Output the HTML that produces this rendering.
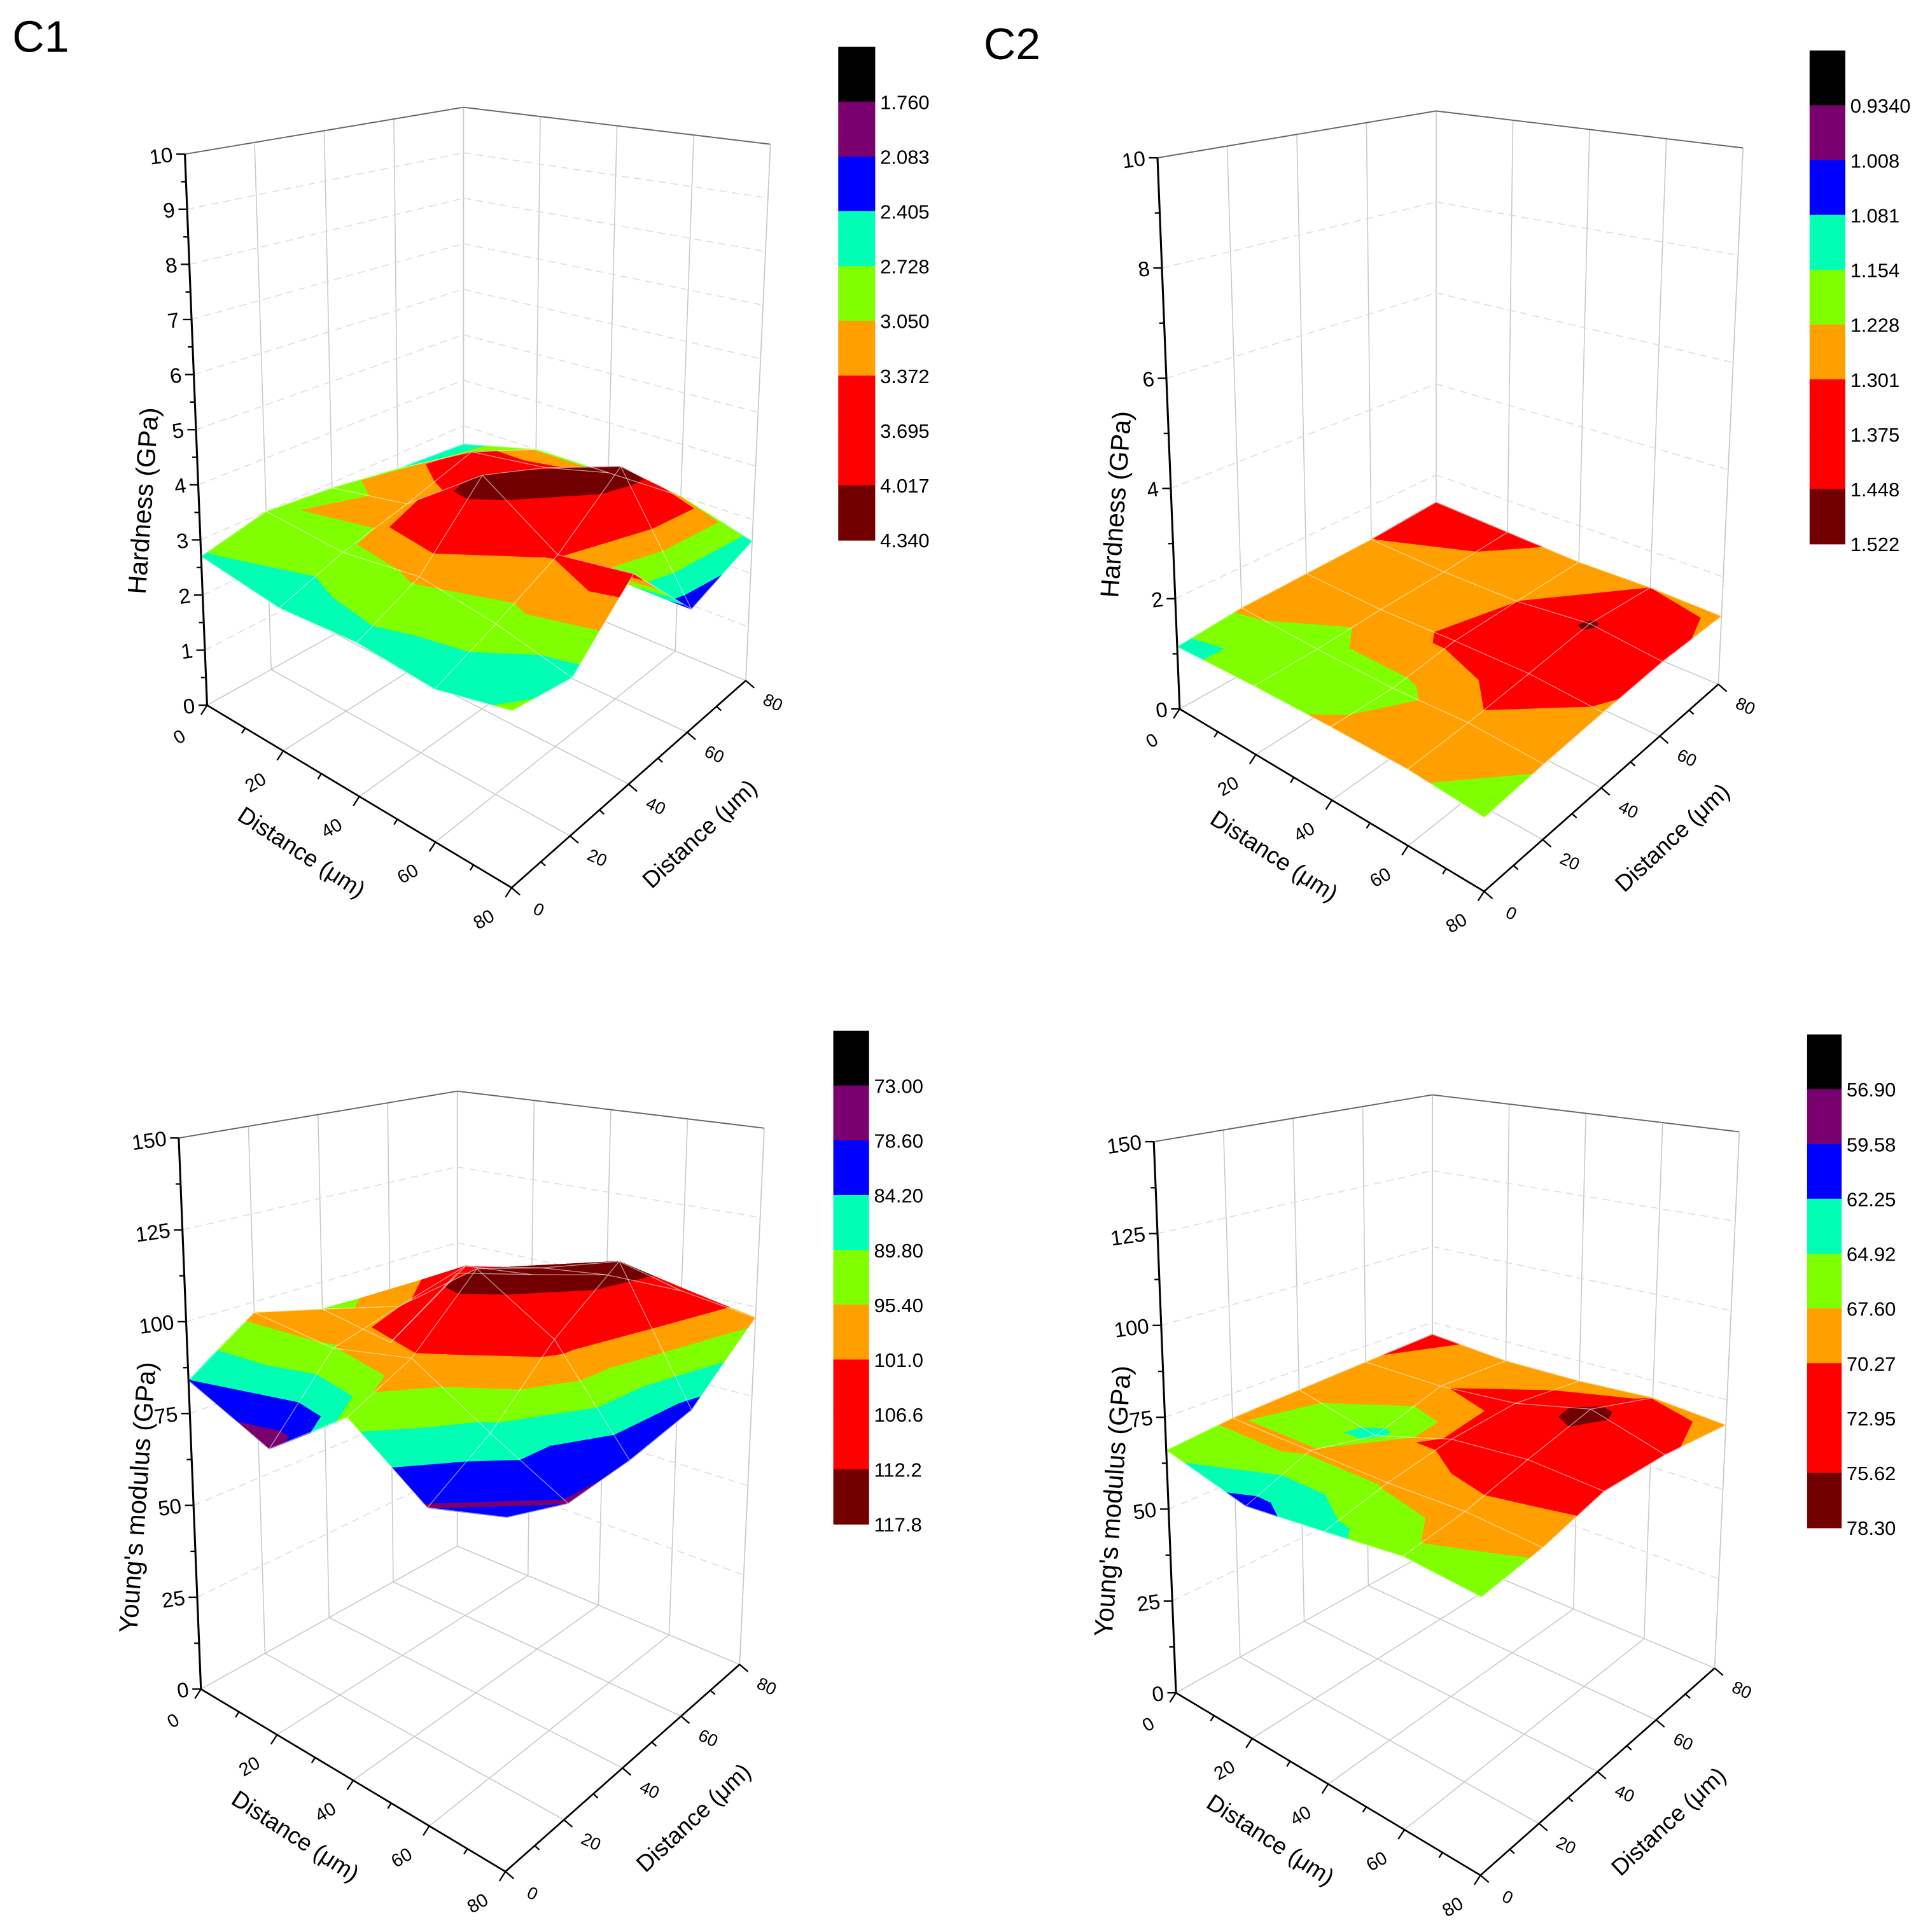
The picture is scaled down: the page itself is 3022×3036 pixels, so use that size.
<!DOCTYPE html>
<html><head><meta charset="utf-8"><style>
html,body{margin:0;padding:0;background:#fff;}
svg{display:block;font-family:"Liberation Sans",sans-serif;}
</style></head><body>
<svg id="fig" xmlns="http://www.w3.org/2000/svg" width="3022" height="3036" viewBox="0 0 1560 1567" preserveAspectRatio="none">
<text x="10" y="42" font-size="36">C1</text>
<text x="798" y="48" font-size="36">C2</text>
</svg>
<script>
const distances = [0, 20, 40, 60, 80];
const bandColors = ['#000000','#7a0070','#0000ff','#00ffb4','#80ff00','#ff9f00','#ff0000','#ff0000','#730000'];

const c1HardLevels = ['1.760','2.083','2.405','2.728','3.050','3.372','3.695','4.017','4.340'];
const c1HardGrid = [
  [2.7, 3.0, 2.9, 2.7, 2.6],
  [2.5, 2.9, 3.2, 3.6, 3.0],
  [2.6, 3.1, 4.3, 3.8, 3.0],
  [2.5, 2.9, 3.4, 4.3, 3.0],
  [2.8, 2.6, 3.6, 2.2, 2.6]
];
const c2HardLevels = ['0.9340','1.008','1.081','1.154','1.228','1.301','1.375','1.448','1.522'];
const c2HardGrid = [
  [1.13, 1.24, 1.27, 1.30, 1.40],
  [1.20, 1.20, 1.25, 1.27, 1.33],
  [1.24, 1.20, 1.32, 1.30, 1.27],
  [1.25, 1.28, 1.36, 1.46, 1.30],
  [1.17, 1.24, 1.29, 1.33, 1.27]
];
const c1ModLevels = ['73.00','78.60','84.20','89.80','95.40','101.0','106.6','112.2','117.8'];
const c1ModGrid = [
  [84, 97, 92, 75, 90],
  [75, 95, 100, 105, 95],
  [92, 100, 117, 110, 100],
  [78, 88, 104, 117, 100],
  [84, 78, 79, 82, 97]
];
const c2ModLevels = ['56.90','59.58','62.25','64.92','67.60','70.27','72.95','75.62','78.30'];
const c2ModGrid = [
  [66, 68, 69, 70, 71],
  [61, 68, 64, 70, 69],
  [64, 68, 71, 72, 69],
  [67, 69, 73, 77, 70],
  [66, 68, 72, 71, 68]
];
const hardTicks1 = [0,1,2,3,4,5,6,7,8,9,10];
const hardTicks2 = [0,2,4,6,8,10];
const modTicks = [0,25,50,75,100,125,150];

const NS = 'http://www.w3.org/2000/svg';
const svg = document.getElementById('fig');
function mk(tag, attrs, parent, txt){
  const e = document.createElementNS(NS, tag);
  for (const k in attrs) e.setAttribute(k, attrs[k]);
  if (txt !== undefined) e.textContent = txt;
  (parent || svg).appendChild(e);
  return e;
}

function panel(cfg){
  const g = mk('g', {});
  
  
  const dx = cfg.dx, dy = cfg.dy;
  const base = {O:[168+dx,572+dy],A:[415+dx,720+dy],B:[605+dx,552+dy],C:[376+dx,456+dy]};
  const top = {O:[150+dx,125+dy],A:[417+dx,207+dy],B:[625+dx,117+dy],C:[376+dx,87+dy]};
  const zmin = cfg.zmin, zmax = cfg.zmax;
  function bil(q,u,v){
    const a=(1-u)*(1-v), b=u*(1-v), c=u*v, d=(1-u)*v;
    return [q.O[0]*a+q.A[0]*b+q.B[0]*c+q.C[0]*d, q.O[1]*a+q.A[1]*b+q.B[1]*c+q.C[1]*d];
  }
  function P(u,v,z){
    const w=(z-zmin)/(zmax-zmin);
    const b=bil(base,u,v), t=bil(top,u,v);
    return [b[0]+w*(t[0]-b[0]), b[1]+w*(t[1]-b[1])];
  }
  function line(p,q,attrs,name){
    const l = mk('line', Object.assign({x1:p[0].toFixed(1),y1:p[1].toFixed(1),x2:q[0].toFixed(1),y2:q[1].toFixed(1)},attrs), g);
    
    
  }
  const grid = '#c8c8c8';
  for (let k=0;k<5;k++){
    const t=k/4;
    line(P(0,t,zmin),P(0,t,zmax),{stroke:grid,'stroke-width':0.8},'left-wall-gridline');
    line(P(t,1,zmin),P(t,1,zmax),{stroke:grid,'stroke-width':0.8},'right-wall-gridline');
    line(P(t,0,zmin),P(t,1,zmin),{stroke:grid,'stroke-width':0.8},'floor-gridline');
    line(P(0,t,zmin),P(1,t,zmin),{stroke:grid,'stroke-width':0.8},'floor-gridline');
  }
  cfg.ticks.forEach(z=>{
    if (z===zmin||z===zmax) return;
    line(P(0,0,z),P(0,1,z),{stroke:'#ddd','stroke-width':0.8,'stroke-dasharray':'6 4'},'left-wall-dashed-line');
    line(P(0,1,z),P(1,1,z),{stroke:'#ddd','stroke-width':0.8,'stroke-dasharray':'6 4'},'right-wall-dashed-line');
  });
  line(P(0,0,zmax),P(0,1,zmax),{stroke:'#666','stroke-width':1},'wall-top-edge');
  line(P(0,1,zmax),P(1,1,zmax),{stroke:'#666','stroke-width':1},'wall-top-edge');
  line(P(1,1,zmin),P(1,1,zmax),{stroke:grid,'stroke-width':0.8},'wall-right-edge');

  const data = cfg.grid, lv = cfg.levels.map(Number);
  const n = distances.length-1;
  const uOf = i => (distances[i]-distances[0])/(distances[n]-distances[0]);
  function clip(poly,t,above){
    const out=[];
    for(let i=0;i<poly.length;i++){
      const a=poly[i], b=poly[(i+1)%poly.length];
      const ia = above ? a[2]>=t : a[2]<t, ib = above ? b[2]>=t : b[2]<t;
      if (ia) out.push(a);
      if (ia!==ib){ const f=(t-a[2])/(b[2]-a[2]); out.push([a[0]+f*(b[0]-a[0]),a[1]+f*(b[1]-a[1]),t]); }
    }
    return out;
  }
  const quads=[];
  for(let i=0;i<n;i++) for(let j=0;j<n;j++) quads.push([i,j]);
  quads.sort((a,b)=>(a[0]-a[1])-(b[0]-b[1]));
  const surf = mk('g',{},g);
  
  
  function drawTri(tri){
    for(let k=0;k<9;k++){
      let poly=tri;
      if (k>0) poly=clip(poly,lv[k-1],true);
      if (poly.length<3) continue;
      if (k<8) poly=clip(poly,lv[k],false);
      if (poly.length<3) continue;
      const pts = poly.map(p=>P(p[0],p[1],p[2]).map(x=>x.toFixed(1)).join(',')).join(' ');
      const pg = mk('polygon',{points:pts,fill:bandColors[k],stroke:bandColors[k],'stroke-width':0.6,'stroke-linejoin':'round'},surf);
      
      
    }
  }
  quads.forEach(([i,j])=>{
    const p00=[uOf(i),uOf(j),data[i][j]], p10=[uOf(i+1),uOf(j),data[i+1][j]];
    const p11=[uOf(i+1),uOf(j+1),data[i+1][j+1]], p01=[uOf(i),uOf(j+1),data[i][j+1]];
    drawTri([p00,p11,p01]);
    drawTri([p00,p10,p11]);
  });
  for(let i=0;i<=n;i++) for(let j=0;j<n;j++){
    line(P(uOf(i),uOf(j),data[i][j]),P(uOf(i),uOf(j+1),data[i][j+1]),{stroke:'rgba(255,255,255,0.55)','stroke-width':0.7},'surface-mesh-line');
    line(P(uOf(j),uOf(i),data[j][i]),P(uOf(j+1),uOf(i),data[j+1][i]),{stroke:'rgba(255,255,255,0.55)','stroke-width':0.7},'surface-mesh-line');
  }

  line(P(0,0,zmin),P(0,0,zmax),{stroke:'#000','stroke-width':1.6},'z-axis-line');
  const step = cfg.ticks[1]-cfg.ticks[0];
  for(let z=zmin; z<=zmax+1e-9; z+=step/2){
    const p=P(0,0,z); const major = Math.abs(((z-zmin)/step)-Math.round((z-zmin)/step))<1e-6;
    line(p,[p[0]-(major?7:4),p[1]],{stroke:'#000','stroke-width':1.2},'z-axis-tick');
  }
  cfg.ticks.forEach(z=>{
    const p=P(0,0,z);
    const t=mk('text',{x:(p[0]-10).toFixed(1),y:(p[1]+6).toFixed(1),'font-size':17,'text-anchor':'end',transform:`rotate(-8 ${(p[0]-10).toFixed(1)} ${p[1].toFixed(1)})`},g,String(z));
    
    
  });
  const zm=P(0,0,cfg.titleZ);
  const zt=mk('text',{x:0,y:0,'font-size':21,'text-anchor':'middle',transform:`translate(${zm[0]-38},${zm[1]}) rotate(-86)`},g,cfg.zTitle);
  
  

  line(P(0,0,zmin),P(1,0,zmin),{stroke:'#000','stroke-width':1.4},'x-axis-line');
  line(P(1,0,zmin),P(1,1,zmin),{stroke:'#000','stroke-width':1.4},'y-axis-line');
  for(let k=0;k<=8;k++){
    const t=k/8;
    const p=P(t,0,zmin), q=P(1,t,zmin);
    const L = k%2===0?9:5;
    line(p,[p[0]-L*0.55,p[1]+L*0.85],{stroke:'#000','stroke-width':1.2},'x-axis-tick');
    line(q,[q[0]+L*0.75,q[1]+L*0.65],{stroke:'#000','stroke-width':1.2},'y-axis-tick');
  }
  distances.forEach((d,k)=>{
    const t=uOf(k);
    const p=P(t,0,zmin), q=P(1,t,zmin);
    const a=mk('text',{x:0,y:0,'font-size':15,'text-anchor':'middle',transform:`translate(${(p[0]-20).toFixed(1)},${(p[1]+30).toFixed(1)}) rotate(-30)`},g,String(d));
    
    
    const b=mk('text',{x:0,y:0,'font-size':14,'text-anchor':'middle',transform:`translate(${(q[0]+20).toFixed(1)},${(q[1]+22).toFixed(1)}) rotate(25)`},g,String(d));
    
    
  });
  const xm=P(0.45,0,zmin);
  const xt=mk('text',{x:0,y:0,'font-size':19,'text-anchor':'middle',transform:`translate(${xm[0]-38},${xm[1]+58}) rotate(33)`},g,'Distance (μm)');
  
  
  const ym=P(1,0.5,zmin);
  const yt=mk('text',{x:0,y:0,'font-size':19,'text-anchor':'middle',transform:`translate(${ym[0]+62},${ym[1]+45}) rotate(-43)`},g,'Distance (μm)');
  
  

  const cb=cfg.cb, bh=(cb.y1-cb.y0)/9;
  const cbg=mk('g',{},g);
  
  
  for(let k=0;k<9;k++){
    const r=mk('rect',{x:cb.x,y:(cb.y0+k*bh).toFixed(1),width:cb.w,height:(bh+0.5).toFixed(1),fill:bandColors[k]},cbg);
    
    
  }
  cfg.levels.forEach((s,k)=>{
    const t=mk('text',{x:cb.x+cb.w+4,y:(cb.y0+(k+1)*bh+6).toFixed(1),'font-size':16},cbg,s);
    
    
  });
}

panel({name:'c1-hardness-plot',dx:0,dy:0,zmin:0,zmax:10,ticks:hardTicks1,titleZ:3.7,zTitle:'Hardness (GPa)',grid:c1HardGrid,levels:c1HardLevels,cb:{x:680,w:30,y0:38,y1:438}});
panel({name:'c2-hardness-plot',dx:789,dy:3,zmin:0,zmax:10,ticks:hardTicks2,titleZ:3.7,zTitle:'Hardness (GPa)',grid:c2HardGrid,levels:c2HardLevels,cb:{x:1468,w:29,y0:41,y1:441}});
panel({name:'c1-modulus-plot',dx:-5,dy:798,zmin:0,zmax:150,ticks:modTicks,titleZ:52,zTitle:"Young's modulus (GPa)",grid:c1ModGrid,levels:c1ModLevels,cb:{x:676,w:29,y0:836,y1:1236}});
panel({name:'c2-modulus-plot',dx:786,dy:801,zmin:0,zmax:150,ticks:modTicks,titleZ:52,zTitle:"Young's modulus (GPa)",grid:c2ModGrid,levels:c2ModLevels,cb:{x:1466,w:28,y0:839,y1:1239}});
</script>
</body></html>
